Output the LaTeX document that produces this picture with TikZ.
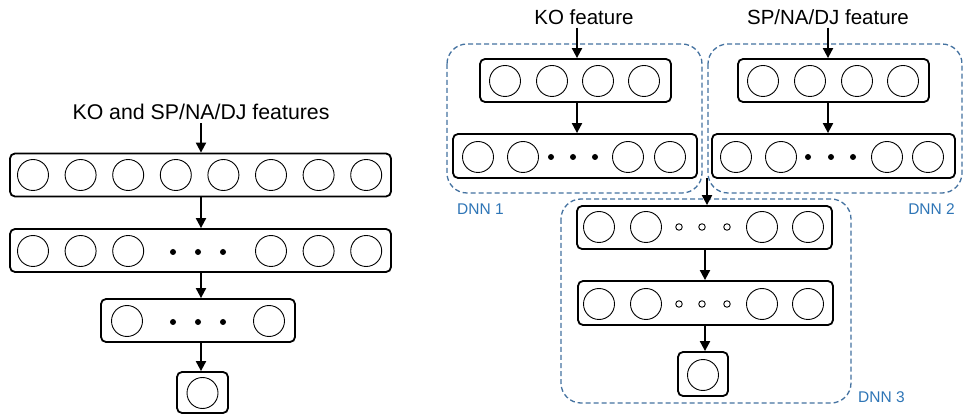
\documentclass[tikz,border=0pt]{standalone}
\usepackage{fontspec}
\setmainfont{Liberation Sans}
\usetikzlibrary{arrows.meta, positioning, calc}
\definecolor{dnnline}{RGB}{68,114,160}
\definecolor{dnntext}{RGB}{46,117,182}
\tikzset{
  layer/.style={draw, line width=1.8pt, rounded corners=5pt, inner sep=0pt, minimum height=43pt},
  unit/.style={draw, circle, line width=0.9pt, inner sep=0pt, minimum size=31pt},
  bdot/.style={fill, circle, inner sep=0pt, minimum size=6pt},
  odot/.style={draw, circle, line width=0.9pt, inner sep=0pt, minimum size=6.5pt},
  dnnbox/.style={draw=dnnline, line width=1.3pt, dash pattern=on 5pt off 3pt, rounded corners=20pt},
  flow/.style={line width=2pt, -{Triangle[length=10pt,width=10pt]}},
  feat/.style={inner sep=0pt, font=\fontsize{20.5}{24}\selectfont},
  tag/.style={inner sep=0pt, text=dnntext, font=\fontsize{15.5}{18}\selectfont}
}

\begin{document}
\begin{tikzpicture}[x=1pt,y=-1pt]
    \useasboundingbox (0,0) rectangle (974,419);

    % Single network
    \node[feat, font=\fontsize{21.3}{25}\selectfont] (inAll) at (201,112) {KO and SP/NA/DJ features};
    \node[layer, minimum width=381pt] (L1) at (200.5,175) {};
    \foreach \i in {1,...,8} \node[unit] (L1u\i) at ({33+47.6*(\i-1)},175) {};

    \node[layer, minimum width=381pt] (L2) at (200.5,250.5) {};
    \foreach \i in {1,2,3,6,7,8} \node[unit] (L2u\i) at ({33+47.6*(\i-1)},251) {};
    \foreach \x [count=\k] in {173,198,223} \node[bdot] (L2d\k) at (\x,252) {};

    \node[layer, minimum width=194pt] (L3) at (198,320.5) {};
    \node[unit] (L3u1) at (127,321) {};
    \node[unit] (L3u2) at (269,321) {};
    \foreach \x [count=\k] in {173,198,223} \node[bdot] (L3d\k) at (\x,322) {};

    \node[layer, minimum width=51pt, minimum height=41pt] (L4) at (202.5,392.5) {};
    \node[unit] (L4u) at (202.5,393) {};

    \coordinate (lx) at (201,0);
    \draw[flow] ([yshift=-3pt]inAll.south) -- (lx |- L1.north);
    \draw[flow] (lx |- L1.south) -- (lx |- L2.north);
    \draw[flow] (lx |- L2.south) -- (lx |- L3.north);
    \draw[flow] (lx |- L3.south) -- (lx |- L4.north);

    % DNN 1
    \draw[dnnbox] (447,44) rectangle (702,193);
    \node[feat] (inKO) at (584,17) {KO feature};
    \node[layer, minimum width=191pt] (A1) at (575.5,80.5) {};
    \foreach \x [count=\k] in {505,552,598,644} \node[unit] (A1u\k) at (\x,81) {};
    \node[layer, minimum width=244pt, minimum height=44pt] (A2) at (575,156) {};
    \foreach \x [count=\k] in {478,523,628,670} \node[unit] (A2u\k) at (\x,157) {};
    \foreach \x [count=\k] in {551,573,595} \node[bdot] (A2d\k) at (\x,157) {};
    \node[tag, anchor=west] (tagA) at (457,209) {DNN 1};

    \coordinate (ax) at (577,0);
    \draw[flow] ([yshift=-3pt]inKO.south -| ax) -- (ax |- A1.north);
    \draw[flow] (ax |- A1.south) -- (ax |- A2.north);

    % DNN 2
    \draw[dnnbox] (708,44) rectangle (962,193);
    \node[feat] (inSP) at (828,17) {SP/NA/DJ feature};
    \node[layer, minimum width=191pt] (B1) at (833.5,80.5) {};
    \foreach \x [count=\k] in {763,810,857,903} \node[unit] (B1u\k) at (\x,81) {};
    \node[layer, minimum width=243pt, minimum height=44pt] (B2) at (833.5,156) {};
    \foreach \x [count=\k] in {736,781,887,928} \node[unit] (B2u\k) at (\x,157) {};
    \foreach \x [count=\k] in {808,831,853} \node[bdot] (B2d\k) at (\x,157) {};
    \node[tag, anchor=east] (tagB) at (955,209) {DNN 2};

    \draw[flow] ([yshift=-3pt]inSP.south) -- (inSP.south |- B1.north);
    \draw[flow] (inSP.south |- B1.south) -- (inSP.south |- B2.north);

    % DNN 3
    \draw[dnnbox] (561,199) rectangle (851,403);
    \node[layer, minimum width=255pt] (C1) at (704.5,227.5) {};
    \foreach \x [count=\k] in {599,646,762,808} \node[unit] (C1u\k) at (\x,227) {};
    \foreach \x [count=\k] in {679,702,727} \node[odot] (C1d\k) at (\x,227) {};
    \node[layer, minimum width=255pt, minimum height=44pt] (C2) at (705.5,303) {};
    \foreach \x [count=\k] in {599,646,762,808} \node[unit] (C2u\k) at (\x,304) {};
    \foreach \x [count=\k] in {679,702,727} \node[odot] (C2d\k) at (\x,304) {};
    \node[layer, minimum width=50pt, minimum height=44pt] (C3) at (703,374) {};
    \node[unit] (C3u) at (703,375) {};
    \node[tag, anchor=west] (tagC) at (858,397) {DNN 3};

    \coordinate (mrg) at (707,178);
    \coordinate (cx) at (705,0);
    \draw[flow] (mrg) -- (mrg |- C1.north);
    \draw[flow] (cx |- C1.south) -- (cx |- C2.north);
    \draw[flow] (cx |- C2.south) -- (cx |- C3.north);
\end{tikzpicture}
\end{document}
